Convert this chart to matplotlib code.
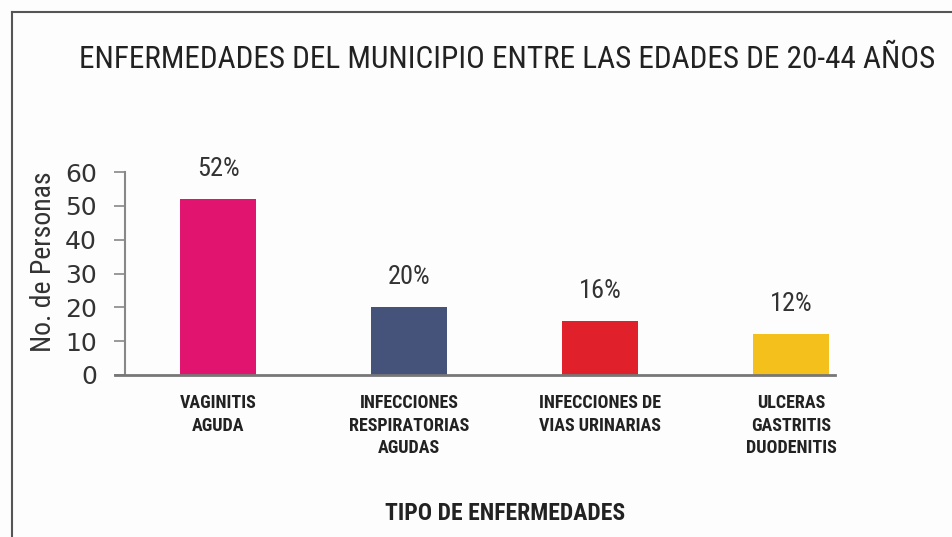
import matplotlib.pyplot as plt
from matplotlib.lines import Line2D

categorias = ['VAGINITIS\nAGUDA', 'INFECCIONES\nRESPIRATORIAS\nAGUDAS',
              'INFECCIONES DE\nVIAS URINARIAS', 'ULCERAS\nGASTRITIS\nDUODENITIS']
personas = [52, 20, 16, 12]
porcentajes = ['52%', '20%', '16%', '12%']
colores = ['#E1146F', '#45527A', '#E0212B', '#F4C01C']
yticks = [0, 10, 20, 30, 40, 50, 60]

cond = 'Roboto Condensed'

fig = plt.figure(figsize=(9.52, 5.37), dpi=100, facecolor='#FDFDFD')
ax = fig.add_axes([115 / 952, 1 - 375 / 537, 720 / 952, 203 / 537])
ax.set_facecolor('none')

x = list(range(len(categorias)))
barras = ax.bar(x, personas, width=0.4, color=colores)
ax.bar_label(barras, labels=porcentajes, padding=13, fontsize=19,
             color='#333333', family=cond)

ax.set_xlim(-0.54, 3.23)
ax.set_ylim(0, 60)
ax.set_yticks(yticks)
ax.set_xticks(x)
ax.set_xticklabels(categorias, fontsize=13, fontweight='bold', family=cond,
                   color='#222222', linespacing=1.3)
ax.tick_params(axis='x', length=0, pad=14)
ax.tick_params(axis='y', length=8, width=1.2, color='#888888', pad=12,
               labelsize=18, labelcolor='#333333')
for t in ax.get_yticklabels():
    t.set_family(cond)

for s in ['top', 'right']:
    ax.spines[s].set_visible(False)
ax.spines['left'].set_position(('data', -0.49))
ax.spines['left'].set_color('#888888')
ax.spines['left'].set_linewidth(1.5)
ax.spines['bottom'].set_color('#777777')
ax.spines['bottom'].set_linewidth(2)

ax.set_ylabel('No. de Personas', fontsize=20, color='#333333', family=cond)
ax.yaxis.set_label_coords(-0.08, 0.56)

fig.text(507 / 952, 1 - 60 / 537, 'ENFERMEDADES DEL MUNICIPIO ENTRE LAS EDADES DE 20-44 AÑOS',
         ha='center', va='center', fontsize=22.5, color='#222222', family=cond)
fig.text(505 / 952, 1 - 514 / 537, 'TIPO DE ENFERMEDADES', ha='center', va='center',
         fontsize=17, fontweight='bold', color='#222222', family=cond)

# marco
fig.add_artist(Line2D([12 / 952, 12 / 952], [0, 1 - 12 / 537], color='#555555', lw=1.5))
fig.add_artist(Line2D([12 / 952, 1], [1 - 12 / 537, 1 - 12 / 537], color='#555555', lw=1.5))

fig.savefig('out.png', dpi=100, facecolor=fig.get_facecolor())
